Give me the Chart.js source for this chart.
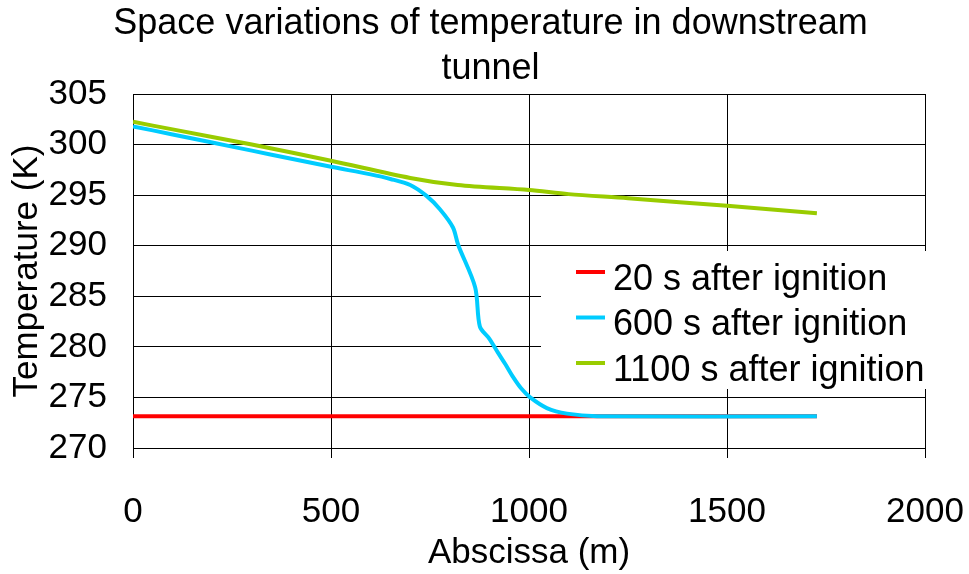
<!DOCTYPE html>
<html>
<head>
<meta charset="utf-8">
<script src="https://cdn.jsdelivr.net/npm/chart.js@4"></script>
<style>
  html, body { margin: 0; padding: 0; background: #fff; }
  #wrap { width: 969px; height: 574px; }
</style>
</head>
<body>
<div id="wrap"><canvas id="c" width="969" height="574"></canvas></div>
<script>
// series labels
const seriesNames = ["20 s after ignition", "600 s after ignition", "1100 s after ignition"];

// 20 s
const x20 = [0, 1727];
const t20 = [273.15, 273.15];

// 600 s
const x600 = [0, 100, 200, 300, 400, 500, 600, 650, 700, 742, 775, 808, 821, 864, 876, 900, 922, 940, 960, 980, 1003, 1045, 1096, 1172, 1727];
const t600 = [301.8, 301.0, 300.2, 299.4, 298.6, 297.8, 297.05, 296.6, 296.0, 294.9, 293.6, 291.8, 290.1, 285.9, 282.0, 280.8, 279.4, 278.3, 277.0, 275.9, 275.0, 273.95, 273.4, 273.15, 273.15];

// 1100 s
const x1100 = [0, 100, 300, 500, 700, 820, 1000, 1100, 1250, 1380, 1500, 1727];
const t1100 = [302.25, 301.5, 300.0, 298.4, 296.7, 296.0, 295.5, 295.1, 294.7, 294.3, 293.95, 293.2];

const yTicks = [270, 275, 280, 285, 290, 295, 300, 305];
const xTicks = [0, 500, 1000, 1500, 2000];

const colors = ["#ff0000", "#00ccff", "#99cc00"];
const FONT = "'Liberation Sans', Arial, sans-serif";

function pts(xs, ys) {
  return xs.map((x, i) => ({ x: x, y: ys[i] }));
}

// legend drawn inside the plot on a white box
const boxLegend = {
  id: "boxLegend",
  afterDatasetsDraw(chart) {
    const ctx = chart.ctx;
    const a = chart.chartArea;
    ctx.save();
    ctx.fillStyle = "#fff";
    ctx.fillRect(541, 251, a.right - 541 + 6, 138);
    chart.data.datasets.forEach((ds, i) => {
      const y = 272 + i * 45.5;
      ctx.strokeStyle = ds.borderColor;
      ctx.lineWidth = 4;
      ctx.beginPath();
      ctx.moveTo(576, y);
      ctx.lineTo(605, y);
      ctx.stroke();
      ctx.fillStyle = "#000";
      ctx.font = "36px " + FONT;
      ctx.textBaseline = "middle";
      ctx.textAlign = "left";
      ctx.fillText(ds.label, 613, y + 8);
    });
    ctx.restore();
  }
};

const config = {
  type: "line",
  data: {
    datasets: [
      { label: seriesNames[0], data: pts(x20, t20), borderColor: colors[0], order: 1 },
      { label: seriesNames[1], data: pts(x600, t600), borderColor: colors[1], order: 0 },
      { label: seriesNames[2], data: pts(x1100, t1100), borderColor: colors[2], order: 2 }
    ]
  },
  options: {
    responsive: false,
    animation: false,
    devicePixelRatio: 1,
    layout: { padding: { left: 12, right: 0, top: 0, bottom: 0 } },
    elements: {
      line: { borderWidth: 4, tension: 0.3, fill: false },
      point: { radius: 0 }
    },
    plugins: {
      legend: { display: false },
      tooltip: { enabled: false },
      title: {
        display: true,
        text: ["Space variations of temperature in downstream", "tunnel"],
        color: "#000",
        font: { family: FONT, size: 36, weight: "normal", lineHeight: 1.25 },
        padding: { top: 2, bottom: 2 }
      }
    },
    scales: {
      x: {
        type: "linear",
        min: 0,
        max: 2000,
        afterBuildTicks: (s) => { s.ticks = xTicks.map(v => ({ value: v })); },
        afterFit: (s) => { s.height = 126; s.paddingLeft = 0; s.paddingRight = 0; },
        grid: { color: "#000", lineWidth: 1, drawTicks: true, tickLength: 10, tickColor: "#000" },
        border: { color: "#000", width: 1 },
        ticks: {
          color: "#000",
          padding: 33,
          font: { family: FONT, size: 35 },
          callback: (v) => String(v)
        },
        title: {
          display: true,
          text: "Abscissa (m)",
          color: "#000",
          font: { family: FONT, size: 35 },
          padding: { top: 0, bottom: 0 }
        }
      },
      y: {
        min: 270,
        max: 305,
        afterBuildTicks: (s) => { s.ticks = yTicks.map(v => ({ value: v })); },
        afterFit: (s) => { s.width = 121; s.paddingTop = 0; s.paddingBottom = 0; },
        grid: { color: "#000", lineWidth: 1, drawTicks: false },
        border: { color: "#000", width: 1 },
        ticks: {
          color: "#000",
          padding: 26,
          font: { family: FONT, size: 35 },
          callback: (v) => String(v)
        },
        title: {
          display: true,
          text: "Temperature (K)",
          color: "#000",
          font: { family: FONT, size: 35, lineHeight: 0.6 },
          padding: { top: 5, bottom: 0 }
        }
      },
      // empty right-hand axis, only keeps room on the right of the plot
      yRight: {
        position: "right",
        min: 270,
        max: 305,
        afterFit: (s) => { s.width = 44; },
        grid: { drawOnChartArea: false, drawTicks: false },
        border: { display: false },
        ticks: { display: false }
      }
    }
  },
  plugins: [boxLegend]
};

new Chart(document.getElementById("c"), config);
</script>
</body>
</html>
